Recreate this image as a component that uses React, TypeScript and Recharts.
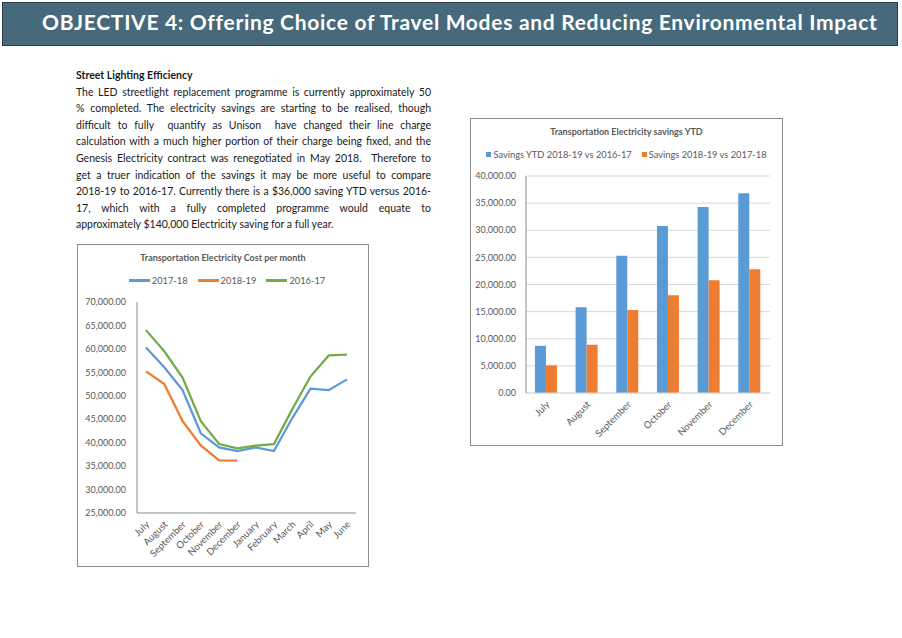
import React from "react";
import { LineChart, Line, BarChart, Bar, XAxis, YAxis, CartesianGrid } from "recharts";

const months = ["July", "August", "September", "October", "November", "December", "January", "February", "March", "April", "May", "June"];
const cost1718 = [60300, 56100, 51200, 42000, 39000, 38200, 39000, 38200, 45200, 51500, 51200, 53500];
const cost1819 = [55200, 52500, 44600, 39400, 36200, 36150, null, null, null, null, null, null];
const cost1617 = [64000, 59500, 53900, 44600, 39700, 38800, 39350, 39700, 47100, 54100, 58600, 58800];
const costTicks = [25000, 30000, 35000, 40000, 45000, 50000, 55000, 60000, 65000, 70000];

const ytdMonths = ["July", "August", "September", "October", "November", "December"];
const savingsVs1617 = [8700, 15800, 25300, 30800, 34300, 36800];
const savingsVs1718 = [5100, 8900, 15300, 18000, 20800, 22800];
const savingsTicks = [0, 5000, 10000, 15000, 20000, 25000, 30000, 35000, 40000];

const lineSeries = [
  { key: "s1718", name: "2017-18", color: "#5b9bd5" },
  { key: "s1819", name: "2018-19", color: "#ed7d31" },
  { key: "s1617", name: "2016-17", color: "#70ad47" },
];
const barSeries = [
  { key: "vs1617", name: "Savings YTD 2018-19 vs 2016-17", color: "#5b9bd5" },
  { key: "vs1718", name: "Savings 2018-19 vs 2017-18", color: "#ed7d31" },
];

const paragraph = [
  "The LED streetlight replacement programme is currently approximately 50",
  "% completed. The electricity savings are starting to be realised, though",
  "difficult to fully  quantify as Unison  have changed their line charge",
  "calculation with a much higher portion of their charge being fixed, and the",
  "Genesis Electricity contract was renegotiated in May 2018.  Therefore to",
  "get a truer indication of the savings it may be more useful to compare",
  "2018-19 to 2016-17. Currently there is a $36,000 saving YTD versus 2016-",
  "17, which with a fully completed programme would equate to",
  "approximately $140,000 Electricity saving for a full year.",
];

const costData = months.map((m, i) => ({ month: m, s1718: cost1718[i], s1819: cost1819[i], s1617: cost1617[i] }));
const ytdData = ytdMonths.map((m, i) => ({ month: m, vs1617: savingsVs1617[i], vs1718: savingsVs1718[i] }));

const FONT = "Lato, 'Open Sans', sans-serif";
const GREY = "#595959";
const fmt = (v: number) => v.toLocaleString("en-US", { minimumFractionDigits: 2, maximumFractionDigits: 2 });

const AngledTick = (props: any) => {
  const { x, y, payload } = props;
  return (
    <g transform={`translate(${x + 4},${y + 10})`}>
      <text x={0} y={0} textAnchor="end" transform="rotate(-45)" fontSize={9.6} fill={GREY} fontFamily={FONT}>
        {payload.value}
      </text>
    </g>
  );
};

const tickStyle = { fontSize: 9, fill: GREY, fontFamily: FONT };

export default function App() {
  return (
    <div style={{ position: "absolute", left: 0, top: 0, width: 902, height: 638, background: "#fff", fontFamily: FONT }}>
      {/* header banner */}
      <div
        style={{
          position: "absolute", left: 2, top: 2, width: 896, height: 44, boxSizing: "border-box",
          background: "#466a7c", border: "1px solid #2c3b45", color: "#fff", fontWeight: 700,
          fontSize: 21, letterSpacing: 0.7, lineHeight: "37px", paddingLeft: 39, whiteSpace: "nowrap",
        }}
      >
        OBJECTIVE 4: Offering Choice of Travel Modes and Reducing Environmental Impact
      </div>

      {/* text block */}
      <div style={{ position: "absolute", left: 76, top: 67, width: 355, fontSize: 10.5, lineHeight: "16.6px", color: "#1a1a1a" }}>
        <div style={{ fontWeight: 700 }}>Street Lighting Efficiency</div>
        {paragraph.map((line, i) => (
          <div
            key={i}
            style={{ whiteSpace: "pre", textAlign: "justify", textAlignLast: i < paragraph.length - 1 ? "justify" : "left" }}
          >
            {line}
          </div>
        ))}
      </div>

      {/* left: line chart */}
      <div style={{ position: "absolute", left: 77, top: 244, width: 292, height: 323, boxSizing: "border-box", border: "1px solid #8c8c8c" }}>
        <div style={{ position: "absolute", left: 0, top: 7, width: 290, textAlign: "center", fontSize: 9, fontWeight: 700, color: GREY }}>
          Transportation Electricity Cost per month
        </div>
        <div style={{ position: "absolute", left: 4, top: 30, width: 290, display: "flex", justifyContent: "center", gap: 10, fontSize: 9.3, color: GREY }}>
          {lineSeries.map((s) => (
            <div key={s.key} style={{ display: "flex", alignItems: "center", gap: 2 }}>
              <span style={{ display: "inline-block", width: 21, height: 2.25, background: s.color }} />
              <span>{s.name}</span>
            </div>
          ))}
        </div>
        <div style={{ position: "absolute", left: 0, top: 0 }}>
          <LineChart width={290} height={321} data={costData} margin={{ top: 57, right: 12, left: 0, bottom: 8 }}>
            <XAxis
              dataKey="month"
              interval={0}
              height={45}
              tick={<AngledTick />}
              tickLine={false}
              tickSize={0}
              axisLine={{ stroke: "#8c8c8c" }}
              padding={{ left: 9, right: 9 }}
            />
            <XAxis xAxisId="top" dataKey="month" orientation="top" height={0} tick={false} tickLine={false} axisLine={{ stroke: "#8c8c8c" }} />
            <YAxis
              domain={[25000, 70000]}
              ticks={costTicks}
              interval={0}
              width={59}
              tickFormatter={fmt}
              tick={tickStyle}
              tickLine={false}
              tickSize={0}
              tickMargin={11}
              axisLine={{ stroke: "#8c8c8c" }}
            />
            <YAxis yAxisId="right" orientation="right" domain={[25000, 70000]} width={0} tick={false} tickLine={false} axisLine={{ stroke: "#8c8c8c" }} />
            {lineSeries.map((s) => (
              <Line key={s.key} type="linear" dataKey={s.key} name={s.name} stroke={s.color} strokeWidth={2.25} dot={false} isAnimationActive={false} />
            ))}
          </LineChart>
        </div>
      </div>

      {/* right: bar chart */}
      <div style={{ position: "absolute", left: 470, top: 118, width: 313, height: 328, boxSizing: "border-box", border: "1px solid #8c8c8c" }}>
        <div style={{ position: "absolute", left: 0, top: 7, width: 311, textAlign: "center", fontSize: 9, fontWeight: 700, color: GREY }}>
          Transportation Electricity savings YTD
        </div>
        <div style={{ position: "absolute", left: 0, top: 30, width: 311, display: "flex", justifyContent: "center", gap: 10, fontSize: 9.3, color: GREY }}>
          {barSeries.map((s) => (
            <div key={s.key} style={{ display: "flex", alignItems: "center", gap: 2 }}>
              <span style={{ display: "inline-block", width: 5, height: 5, background: s.color }} />
              <span>{s.name}</span>
            </div>
          ))}
        </div>
        <div style={{ position: "absolute", left: 0, top: 0 }}>
          <BarChart width={311} height={326} data={ytdData} margin={{ top: 57, right: 12, left: 0, bottom: 7 }} barCategoryGap="22%" barGap={0}>
            <CartesianGrid vertical={false} stroke="#d9d9d9" />
            <XAxis
              dataKey="month"
              interval={0}
              height={45}
              tick={<AngledTick />}
              tickLine={false}
              tickSize={0}
              axisLine={{ stroke: "#d9d9d9" }}
            />
            <XAxis xAxisId="top" dataKey="month" orientation="top" height={0} tick={false} tickLine={false} axisLine={{ stroke: "#8c8c8c" }} />
            <YAxis
              domain={[0, 40000]}
              ticks={savingsTicks}
              interval={0}
              width={55}
              tickFormatter={fmt}
              tick={tickStyle}
              tickLine={false}
              tickSize={0}
              tickMargin={10}
              axisLine={{ stroke: "#8c8c8c" }}
            />
            <YAxis yAxisId="right" orientation="right" domain={[0, 40000]} width={0} tick={false} tickLine={false} axisLine={{ stroke: "#8c8c8c" }} />
            {barSeries.map((s) => (
              <Bar key={s.key} dataKey={s.key} name={s.name} fill={s.color} isAnimationActive={false} />
            ))}
          </BarChart>
        </div>
      </div>
    </div>
  );
}
